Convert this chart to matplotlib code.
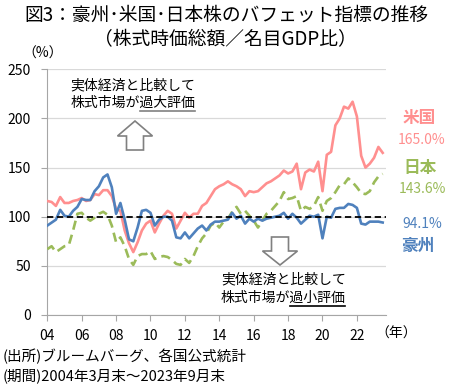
import matplotlib
matplotlib.use("Agg")
import matplotlib.pyplot as plt
from matplotlib.patches import Polygon
import numpy as np

plt.rcParams['font.family'] = ['Noto Sans CJK JP', 'DejaVu Sans']

# quarterly, 2004 Mar .. 2023 Sep (79 points)
us = [116, 115, 111, 120, 114, 114, 116, 117, 119, 116, 117, 123, 122, 127, 127, 121,
      108, 106, 86, 73, 64, 74, 86, 93, 96, 84, 93, 101, 106, 103, 88, 96,
      104, 99, 103, 103, 111, 114, 121, 128, 131, 133, 136, 133, 131, 128, 121, 126,
      125, 126, 130, 134, 136, 139, 142, 147, 144, 146, 154, 128, 145, 148, 146, 156,
      126, 163, 166, 193, 200, 212, 210, 217, 202, 162, 150, 154, 160, 171, 165.0]
japan = [67, 70, 64, 67, 70, 71, 86, 103, 104, 99, 96, 99, 103, 105, 102, 91,
         74, 79, 70, 57, 51, 60, 62, 62, 65, 57, 59, 60, 59, 56, 52, 51,
         57, 53, 60, 70, 78, 83, 91, 94, 89, 95, 98, 105, 110, 103, 106, 101,
         96, 89, 96, 103, 106, 111, 116, 125, 118, 119, 121, 106, 110, 108, 111, 120,
         106, 116, 119, 125, 132, 133, 139, 135, 130, 124, 123, 126, 135, 141, 143.6]
australia = [91, 94, 97, 107, 101, 100, 106, 110, 118, 117, 117, 126, 131, 140, 143, 130,
             103, 114, 97, 77, 75, 89, 106, 107, 104, 91, 97, 100, 100, 96, 79, 78,
             84, 78, 83, 88, 91, 86, 92, 95, 95, 96, 97, 104, 98, 101, 93, 98,
             95, 98, 96, 98, 99, 100, 101, 104, 98, 103, 99, 93, 97, 101, 100, 102,
             78, 100, 99, 108, 109, 109, 113, 112, 109, 93, 92, 95, 95, 95, 94.1]
year_labels = ['04', '06', '08', '10', '12', '14', '16', '18', '20', '22']

c_us = '#FF8F8F'
c_jp = '#9BBB59'
c_au = '#4F81BD'

W, H = 454, 388
fig = plt.figure(figsize=(W / 100, H / 100), dpi=100)
ax = fig.add_axes([47.3 / W, 1 - 315 / H, (385.7 - 47.3) / W, (315 - 69.3) / H])

x = np.arange(len(us))
ax.plot(x, us, color=c_us, lw=1.9, zorder=3)
ax.plot(x, japan, color=c_jp, lw=1.9, ls=(0, (3.5, 2)), zorder=3)
ax.plot(x, australia, color=c_au, lw=1.9, zorder=4)
ax.axhline(100, color='black', lw=1.3, ls=(0, (3.5, 2)), zorder=5)

ax.set_xlim(0, 78.7)
ax.set_ylim(0, 250)
ax.set_yticks(range(0, 251, 50))
ax.set_xticks(range(0, 73, 8))
ax.set_xticklabels(year_labels)
ax.grid(axis='y', color='#D9D9D9', lw=0.9)
ax.set_axisbelow(True)
for s in ['top', 'right']:
    ax.spines[s].set_visible(False)
for s in ['left', 'bottom']:
    ax.spines[s].set_color('#A6A6A6')
ax.tick_params(axis='both', colors='#A6A6A6', labelcolor='black', labelsize=10,
               length=4, direction='out')
ax.tick_params(axis='y', pad=8)
ax.tick_params(axis='x', pad=6)


def px(xp, yp):
    return xp / W, 1 - yp / H


fig.text(*px(226, 15), '図3：豪州･米国･日本株のバフェット指標の推移', ha='center', va='center',
         fontsize=13.5)
fig.text(*px(225, 40), '（株式時価総額／名目GDP比）', ha='center', va='center', fontsize=13.5)
fig.text(*px(43, 54), '（%）', ha='center', va='center', fontsize=10)
fig.text(*px(396, 334), '（年）', ha='center', va='center', fontsize=10)

# right side labels
fig.text(*px(419, 118), '米国', color=c_us, ha='center', va='center', fontsize=12,
         fontweight='bold')
fig.text(*px(422, 140), '165.0%', color=c_us, ha='center', va='center', fontsize=10)
fig.text(*px(420, 168), '日本', color=c_jp, ha='center', va='center', fontsize=12,
         fontweight='bold')
fig.text(*px(422, 189), '143.6%', color=c_jp, ha='center', va='center', fontsize=10)
fig.text(*px(422, 224), '94.1%', color=c_au, ha='center', va='center', fontsize=10)
fig.text(*px(418, 246), '豪州', color=c_au, ha='center', va='center', fontsize=12,
         fontweight='bold')

# annotations
t1a = fig.text(*px(133, 85), '実体経済と比較して', ha='center', va='center', fontsize=10)
t1b = fig.text(*px(133, 103), '株式市場が過大評価', ha='center', va='center', fontsize=10)
t2a = fig.text(*px(284, 279), '実体経済と比較して', ha='center', va='center', fontsize=10)
t2b = fig.text(*px(283, 298), '株式市場が過小評価', ha='center', va='center', fontsize=10)

# footer
fig.text(*px(3, 356), '(出所)ブルームバーグ、各国公式統計', ha='left', va='center', fontsize=10.5)
fig.text(*px(3, 376), '(期間)2004年3月末～2023年9月末', ha='left', va='center', fontsize=10.5)


def block_arrow(cx, tip, head_base, tail, head_w, shaft_w):
    pts = [(cx, tip), (cx - head_w / 2, head_base), (cx - shaft_w / 2, head_base),
           (cx - shaft_w / 2, tail), (cx + shaft_w / 2, tail), (cx + shaft_w / 2, head_base),
           (cx + head_w / 2, head_base)]
    poly = Polygon([px(a, b) for a, b in pts], closed=True, transform=fig.transFigure,
                   fc='white', ec='#808080', lw=1.2)
    fig.add_artist(poly)


block_arrow(135, 121, 136, 150, 35, 17)
block_arrow(280, 265, 251, 237, 35, 17)

# underline last 4 characters
fig.canvas.draw()
r = fig.canvas.get_renderer()
for t, col in [(t1b, '#808080'), (t2b, 'black')]:
    bb = t.get_window_extent(renderer=r)
    x0 = bb.x0 + bb.width * 5 / 9
    y0 = bb.y0 - 1
    fig.add_artist(plt.Line2D([x0 / W, bb.x1 / W], [y0 / H, y0 / H],
                              transform=fig.transFigure, color=col, lw=1.2))

fig.savefig('out.png', dpi=100)
